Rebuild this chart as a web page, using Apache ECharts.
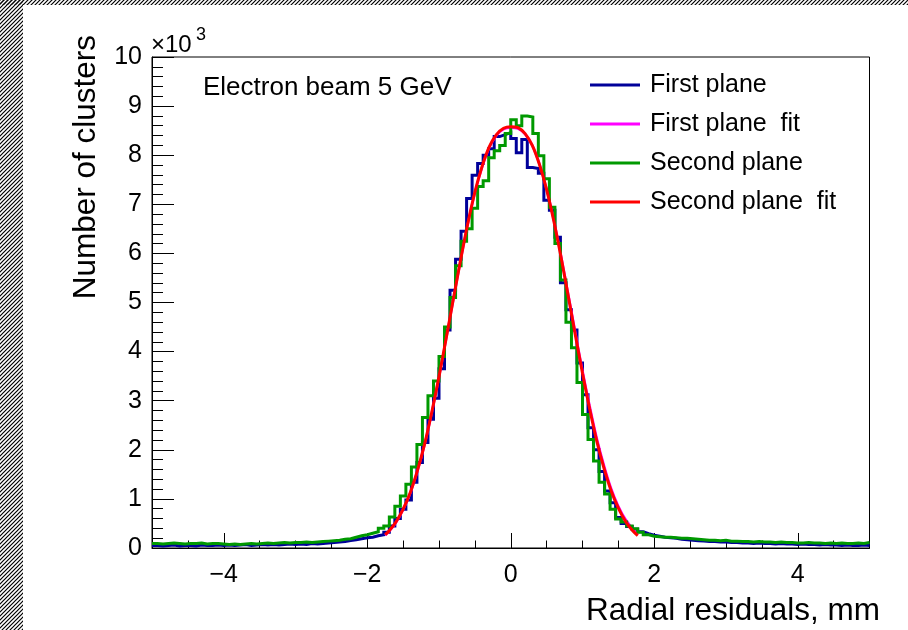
<!DOCTYPE html>
<html><head><meta charset="utf-8">
<script src="https://cdn.jsdelivr.net/npm/echarts@6/dist/echarts.min.js"></script>
<style>html,body{margin:0;padding:0;background:#fff}#c{width:908px;height:630px}</style>
</head><body><div id="c"></div>
<script>
// Histogram binning: 130 bins from -5 to 5 mm (values in units of 10^3 clusters)
const binLow = -5;
const binWidth = 10 / 130;

const firstPlane = [
  0.05,0.04,0.05,0.06,0.04,0.05,0.05,0.04,0.06,0.05,0.05,0.06,0.05,
  0.06,0.05,0.06,0.07,0.05,0.06,0.07,0.06,0.07,0.06,0.07,0.08,0.07,
  0.08,0.07,0.09,0.08,0.09,0.10,0.11,
  0.12,0.13,0.15,0.17,0.19,0.21,
  0.22,0.25,0.27,0.32,0.45,0.60,0.79,0.98,1.34,1.74,
  2.15,2.62,3.05,3.65,4.44,5.25,5.88,6.45,7.12,7.59,
  7.83,8.00,8.13,8.38,8.42,8.46,8.34,8.05,8.32,7.75,
  7.73,7.63,7.08,6.88,6.33,5.40,4.85,4.44,3.77,3.12,
  2.45,2.00,1.56,1.16,0.92,0.62,0.50,0.44,0.38,0.33,
  0.29,0.26,
  0.24,0.22,0.21,0.20,0.18,0.17,0.16,0.15,
  0.14,0.13,0.13,0.12,0.12,0.11,
  0.11,0.10,0.10,0.09,0.10,0.09,0.09,0.08,0.09,0.08,0.08,0.07,
  0.08,0.07,0.07,0.06,0.07,0.06,0.06,0.05,0.06,0.05,0.05,0.06,0.05
];

const secondPlane = [
  0.09,0.08,0.09,0.10,0.09,0.08,0.09,0.09,0.10,0.08,0.09,0.09,0.08,
  0.07,0.08,0.07,0.08,0.09,0.08,0.09,0.10,0.09,0.10,0.11,0.10,0.11,
  0.11,0.12,0.11,0.12,0.13,0.14,0.15,
  0.16,0.18,0.19,0.22,0.25,0.27,
  0.30,0.33,0.40,0.45,0.63,0.85,1.06,1.30,1.65,2.11,
  2.66,3.10,3.40,3.90,4.50,5.10,5.75,6.25,6.50,6.92,
  7.36,7.48,7.95,8.09,8.20,8.44,8.72,8.60,8.80,8.78,
  8.44,7.99,7.52,6.94,6.20,5.46,4.60,4.08,3.37,2.72,
  2.21,1.77,1.34,1.10,0.79,0.59,0.53,0.45,0.39,0.32,
  0.27,0.24,
  0.23,0.22,0.22,0.21,0.20,0.20,0.19,0.18,
  0.17,0.16,0.16,0.15,0.16,0.14,
  0.14,0.13,0.13,0.12,0.13,0.12,0.12,0.11,0.12,0.11,0.11,0.10,
  0.10,0.11,0.10,0.10,0.09,0.10,0.09,0.10,0.09,0.09,0.10,0.09,0.11
];

// Fit curves sampled points
const fitX = [-1.75,-1.7,-1.6,-1.5,-1.4,-1.3,-1.2,-1.1,-1.0,-0.9,-0.8,-0.7,-0.6,-0.5,-0.4,-0.3,-0.2,-0.1,0,
  0.1,0.2,0.3,0.4,0.5,0.6,0.7,0.8,0.9,1.0,1.1,1.2,1.3,1.4,1.5,1.6,1.7,1.77];
const firstFit = [0.26,0.33,0.52,0.78,1.12,1.57,2.11,2.76,3.48,4.26,5.06,5.85,6.59,7.23,7.75,8.15,8.40,8.53,8.56,
  8.54,8.43,8.20,7.82,7.31,6.68,5.96,5.18,4.39,3.61,2.89,2.23,1.68,1.21,0.85,0.58,0.39,0.28];
const secondFit = [0.27,0.34,0.53,0.79,1.13,1.58,2.12,2.77,3.49,4.27,5.07,5.86,6.60,7.25,7.77,8.17,8.42,8.55,8.58,
  8.56,8.44,8.20,7.81,7.30,6.66,5.93,5.14,4.34,3.56,2.83,2.17,1.62,1.16,0.81,0.54,0.35,0.25];

const xMajorTicks = [-4,-2,0,2,4];
const yTicks = [0,1,2,3,4,5,6,7,8,9,10];
const seriesNames = ['First plane','First plane  fit','Second plane','Second plane  fit'];
const seriesColors = ['#000099','#ff00ff','#009900','#ff0000'];

const FONT = '"Liberation Sans", Arial, Helvetica, sans-serif';

function histPoints(vals){
  const pts = [];
  for (let i = 0; i < vals.length; i++) pts.push([binLow + i * binWidth, vals[i]]);
  pts.push([binLow + vals.length * binWidth, vals[vals.length - 1]]);
  return pts;
}
function curvePoints(xs, ys){ return xs.map((x, i) => [x, ys[i]]); }

// hatch pattern
const pc = document.createElement('canvas'); pc.width = 4; pc.height = 4;
const g = pc.getContext('2d'); g.strokeStyle = '#000'; g.lineWidth = 1.2;
g.beginPath(); g.moveTo(0,4); g.lineTo(4,0); g.moveTo(-1,1); g.lineTo(1,-1); g.moveTo(3,5); g.lineTo(5,3); g.stroke();

const chart = echarts.init(document.getElementById('c'), null, {renderer:'canvas', width:908, height:630});
const gridRect = {left:152, top:57, width:717.5, height:491};

chart.setOption({
  animation:false,
  backgroundColor:'#ffffff',
  textStyle:{fontFamily:FONT},
  grid:[
    Object.assign({show:true, borderColor:'#000', borderWidth:1, backgroundColor:'transparent'}, gridRect),
    Object.assign({show:false}, gridRect)
  ],
  xAxis:[
    {gridIndex:0, type:'value', min:-5, max:5,
     axisLine:{show:true, onZero:false, lineStyle:{color:'#000', width:1}},
     axisTick:{show:true, inside:true, length:15, customValues:xMajorTicks, lineStyle:{color:'#000', width:1}},
     axisLabel:{show:true, customValues:xMajorTicks, fontSize:25, color:'#000', fontFamily:FONT, margin:15,
       formatter: v => (v < 0 ? '\u2212' + Math.abs(v) : String(v))},
     splitLine:{show:false}},
    {gridIndex:1, type:'value', min:-5, max:5, interval:0.5,
     axisLine:{show:false, onZero:false},
     axisTick:{show:true, inside:true, length:7.5, lineStyle:{color:'#000', width:1}},
     axisLabel:{show:false}, splitLine:{show:false}}
  ],
  yAxis:[
    {gridIndex:0, type:'value', min:0, max:10, interval:1,
     axisLine:{show:true, onZero:false, lineStyle:{color:'#000', width:1}},
     axisTick:{show:true, inside:true, length:22, lineStyle:{color:'#000', width:1}},
     minorTick:{show:true, splitNumber:5, length:11, lineStyle:{color:'#000', width:1}},
     axisLabel:{show:true, fontSize:25, color:'#000', fontFamily:FONT, margin:10,
       formatter: v => (yTicks.indexOf(v) >= 0 ? String(v) : '')},
     splitLine:{show:false}},
    {gridIndex:1, type:'value', min:0, max:10, show:false}
  ],
  legend:{
    data:seriesNames, orient:'vertical', left:590, top:70, padding:0,
    itemWidth:50, itemHeight:3, itemGap:9, icon:'rect',
    textStyle:{fontSize:25, color:'#000', fontFamily:FONT, lineHeight:30, padding:[0,0,0,5]}
  },
  graphic:[
    {type:'rect', shape:{x:0, y:0, width:23, height:630}, style:{fill:{image:pc, repeat:'repeat'}}, z:100},
    {type:'rect', shape:{x:0, y:0, width:908, height:5}, style:{fill:{image:pc, repeat:'repeat'}}, z:100},
    {type:'text', x:151, y:45.5, style:{text:'\u00d710', font:'24px ' + FONT, fill:'#000', textAlign:'left', textVerticalAlign:'middle'}},
    {type:'text', x:196, y:35, style:{text:'3', font:'18px ' + FONT, fill:'#000', textAlign:'left', textVerticalAlign:'middle'}},
    {type:'text', x:203, y:87.5, style:{text:'Electron beam 5 GeV', font:'26px ' + FONT, fill:'#000', textAlign:'left', textVerticalAlign:'middle'}},
    {type:'text', x:880, y:611, style:{text:'Radial residuals, mm', font:'31.5px ' + FONT, fill:'#000', textAlign:'right', textVerticalAlign:'middle'}},
    {type:'text', x:86, y:35, rotation:Math.PI/2, style:{text:'Number of clusters', font:'31.5px ' + FONT, fill:'#000', textAlign:'right', textVerticalAlign:'middle'}}
  ],
  series:[
    {name:seriesNames[0], type:'line', xAxisIndex:0, yAxisIndex:0, data:histPoints(firstPlane), step:'end',
     symbol:'none', showSymbol:false, lineStyle:{color:seriesColors[0], width:3, join:'miter'}, itemStyle:{color:seriesColors[0]}, z:2},
    {name:seriesNames[1], type:'line', xAxisIndex:0, yAxisIndex:0, data:curvePoints(fitX, firstFit), smooth:0.3,
     symbol:'none', showSymbol:false, lineStyle:{color:seriesColors[1], width:2.5}, itemStyle:{color:seriesColors[1]}, z:3},
    {name:seriesNames[2], type:'line', xAxisIndex:0, yAxisIndex:0, data:histPoints(secondPlane), step:'end',
     symbol:'none', showSymbol:false, lineStyle:{color:seriesColors[2], width:3, join:'miter'}, itemStyle:{color:seriesColors[2]}, z:4},
    {name:seriesNames[3], type:'line', xAxisIndex:0, yAxisIndex:0, data:curvePoints(fitX, secondFit), smooth:0.3,
     symbol:'none', showSymbol:false, lineStyle:{color:seriesColors[3], width:3}, itemStyle:{color:seriesColors[3]}, z:5}
  ]
});
</script>
</body></html>
